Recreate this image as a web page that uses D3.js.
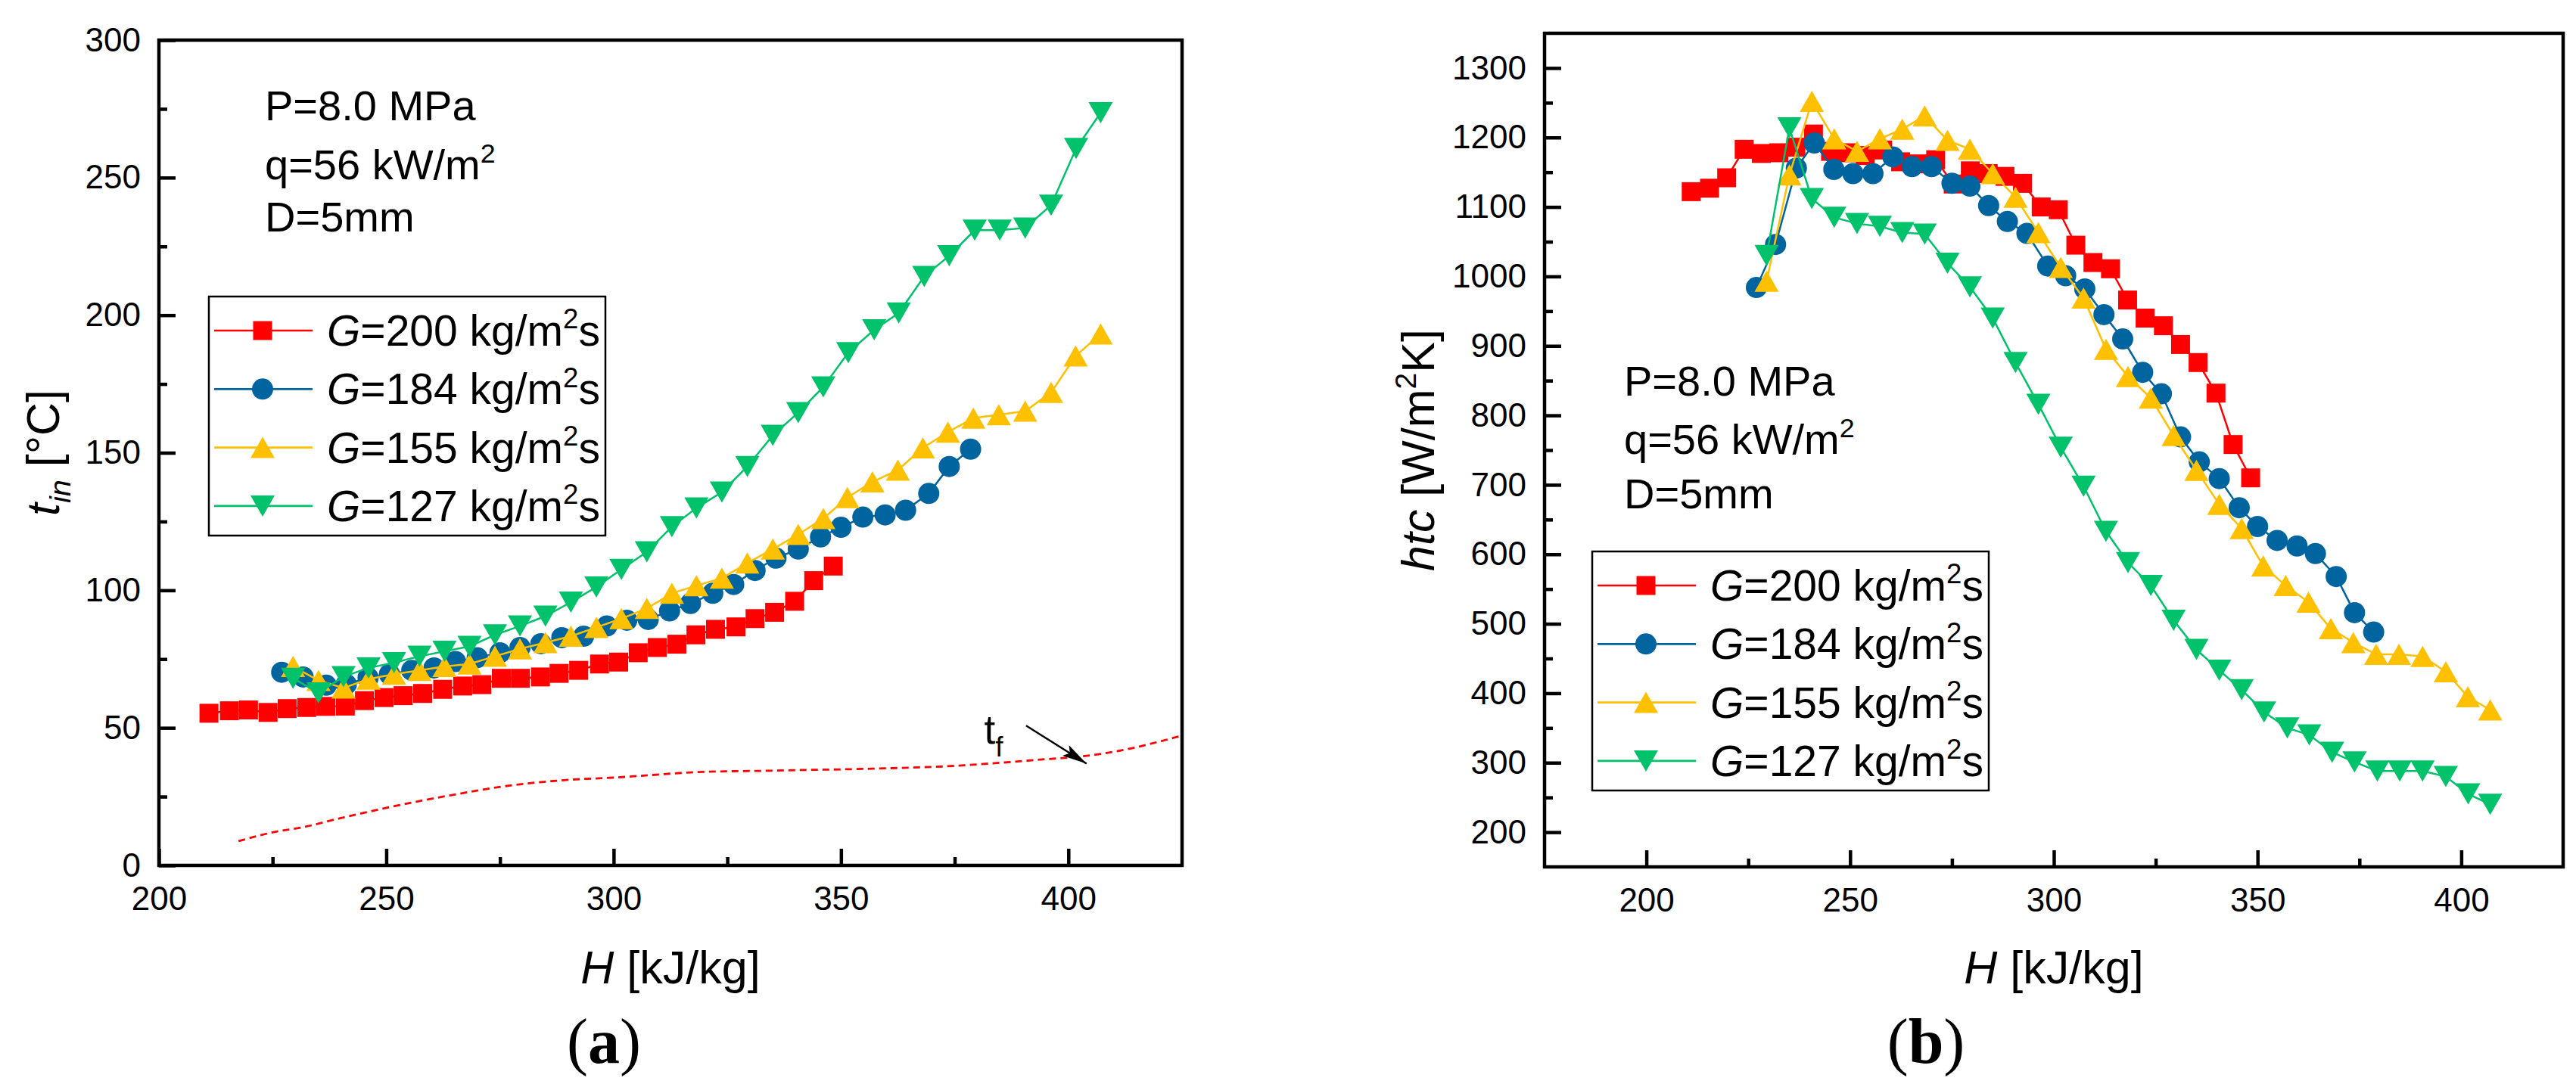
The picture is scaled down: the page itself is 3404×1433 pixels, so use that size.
<!DOCTYPE html>
<html>
<head>
<meta charset="utf-8">
<script src="https://cdn.jsdelivr.net/npm/d3@7"></script>
<style>
    body { margin: 0; background: #fff; }
    svg { display: block; font-family: "Liberation Sans", Arial, sans-serif; }
</style>
</head>
<body>
<svg id="chart" width="3404" height="1433"></svg>
<script>
// enthalpy H [kJ/kg] of each series
const hG200 = [211, 215.5, 219.7, 224, 228.2, 232.5, 236.7, 241, 245.2, 249.5, 253.7, 258, 262.4, 266.8, 271, 275.3,
    279.5, 283.9, 288, 292.3, 296.9, 301.1, 305.4, 309.6, 313.9, 318.1, 322.4, 326.9, 331.1, 335.4, 339.8, 344, 348.3];
const hG184 = [227, 231.7, 236.8, 241.2, 246, 250.7, 255.6, 260.5, 265.2, 270, 275, 279.4, 284, 288.6, 293.4, 298.5,
    302.9, 307.6, 312.3, 316.9, 321.8, 326.4, 331.1, 335.7, 340.6, 345.5, 350, 354.8, 359.7, 364.2, 369.3, 373.8, 378.5];
const hG155 = [229.5, 235.1, 240.6, 246.1, 251.7, 257.3, 262.8, 268.3, 273.9, 279.4, 285, 290.6, 296.2, 301.7, 307.3,
    312.8, 318.2, 323.8, 329.4, 335, 340.6, 346.1, 351.4, 356.9, 362.5, 368, 373.5, 379.1, 384.7, 390.5, 396.2, 401.6, 407.1];
const hG127 = [229.5, 235.1, 240.6, 246.1, 251.7, 257.3, 262.8, 268.3, 273.9, 279.4, 285, 290.6, 296.2, 301.7, 307.3,
    312.8, 318.2, 323.8, 329.4, 335, 340.6, 346.1, 351.6, 357.3, 362.7, 368.3, 373.8, 379.4, 384.9, 390.5, 396.2, 401.7, 407.1];

// (a) inner wall temperature t_in [°C]
const tG200 = [55.3, 56.2, 56.5, 55.6, 57.0, 57.4, 57.8, 57.9, 59.9, 61.0, 61.7, 62.5, 64.0, 65.2, 65.7, 68.0,
    68.0, 68.5, 69.8, 70.9, 73.2, 73.9, 77.3, 79.2, 80.4, 83.8, 85.8, 86.7, 89.7, 92.0, 96.0, 103.5, 108.8];
const tG184 = [70.2, 68.5, 65.5, 65.8, 68.2, 69.5, 70.9, 71.8, 74.1, 75.5, 77.3, 79.2, 80.6, 82.8, 83.3, 87.0,
    89.1, 89.4, 92.5, 95.2, 98.9, 102.1, 107.2, 111.7, 115.0, 119.4, 122.9, 126.6, 127.4, 129.1, 135.2, 145.0, 151.3];
const tG155 = [72.3, 67.2, 64.5, 67.7, 69.5, 70.9, 72.3, 73.2, 76.0, 78.7, 81.0, 83.3, 86.5, 89.7, 93.4, 98.9,
    101.7, 104.4, 109.9, 115.0, 120.3, 126.1, 133.7, 139.4, 143.7, 151.8, 157.5, 162.6, 163.8, 165.1, 171.9, 185.2, 193.2];
const tG127 = [68.0, 62.7, 68.6, 71.8, 73.7, 76.0, 77.8, 79.6, 83.8, 87.0, 90.6, 95.7, 101.2, 107.6, 114.0, 123.1,
    129.9, 135.7, 145.0, 156.3, 164.6, 173.9, 186.4, 194.7, 200.8, 214.1, 221.6, 230.9, 230.9, 231.7, 240.0, 260.6, 273.6];

// (a) fluid bulk temperature t_f (dashed curve)
const hFluid = [217.5, 225, 232, 240, 248.9, 257, 265.9, 274, 282.9, 291, 299.9, 308, 316.9, 325, 333.8, 342, 350,
    360, 373, 385, 395, 401, 410, 414, 420, 425];
const tFluid = [8.8, 12.0, 14.0, 17.2, 20.5, 23.3, 26.0, 28.3, 30.1, 31.2, 31.9, 32.8, 33.8, 34.2, 34.4, 34.7, 34.9,
    35.3, 36.0, 37.3, 38.6, 39.3, 41.3, 42.6, 45.0, 47.2];

// (b) heat transfer coefficient htc [W/m2K]
const htcG200 = [1122, 1127, 1142, 1183, 1177, 1178, 1186, 1205, 1180, 1178, 1174, 1182, 1165, 1162, 1168, 1133,
    1152, 1148, 1144, 1134, 1100, 1096, 1045, 1020, 1011, 966, 940, 929, 902, 876, 832, 758, 710];
const htcG184 = [984, 1046, 1156, 1192, 1154, 1148, 1148, 1172, 1158, 1158, 1134, 1130, 1102, 1079, 1062, 1015,
    1001, 982, 945, 910, 862, 831, 769, 733, 709, 667, 640, 620, 612, 601, 568, 516, 488];
const htcG155 = [993, 1146, 1252, 1198, 1180, 1198, 1212, 1231, 1196, 1183, 1148, 1114, 1063, 1013, 969, 895,
    856, 825, 771, 721, 672, 637, 583, 555, 531, 493, 473, 456, 456, 453, 431, 395, 376];
const htcG127 = [1030, 1214, 1112, 1085, 1076, 1072, 1063, 1061, 1019, 985, 940, 876, 816, 754, 698, 633,
    588, 555, 505, 463, 433, 405, 373, 350, 340, 315, 301, 288, 288, 288, 280, 255, 240];

const massFlux = ["200", "184", "155", "127"];
const seriesColors = ["#FF0000", "#00659E", "#FFC000", "#00C26B"];
const seriesShapes = ["square", "circle", "up", "down"];

// tick values
const ticksXa = [200, 250, 300, 350, 400];
const minorXa = [225, 275, 325, 375];
const ticksYa = [0, 50, 100, 150, 200, 250, 300];
const minorYa = [25, 75, 125, 175, 225, 275];
const ticksXb = [200, 250, 300, 350, 400];
const minorXb = [225, 275, 325, 375];
const ticksYb = [200, 300, 400, 500, 600, 700, 800, 900, 1000, 1100, 1200, 1300];
const minorYb = [250, 350, 450, 550, 650, 750, 850, 950, 1050, 1150, 1250];

const svg = d3.select("#chart");
svg.append("rect").attr("width", 3404).attr("height", 1433).attr("fill", "#fff");

svg.append("defs").append("marker")
    .attr("id", "arrowHead")
    .attr("viewBox", "0 0 10 10")
    .attr("refX", 10).attr("refY", 5)
    .attr("markerWidth", 13).attr("markerHeight", 6.5)
    .attr("markerUnits", "strokeWidth")
    .attr("orient", "auto")
    .attr("preserveAspectRatio", "none")
    .append("path")
    .attr("d", "M0,0L10,5L0,10L2,5Z")
    .attr("fill", "#000");

function markerPath(shape) {
    if (shape === "square") return "M-12.5,-12.5H12.5V12.5H-12.5Z";
    if (shape === "circle") return d3.symbol(d3.symbolCircle, Math.PI * 14 * 14)();
    if (shape === "up") return "M0,-14L16,14L-16,14Z";
    return "M0,14L16,-14L-16,-14Z";
}

function styleAxis(sel, fontSize) {
    sel.select(".domain").remove();
    sel.selectAll(".tick line").attr("stroke", "#000").attr("stroke-width", 4.5);
    sel.selectAll(".tick text").attr("fill", "#000").attr("font-size", fontSize)
        .attr("font-family", "'Liberation Sans', Arial, sans-serif");
}

// rich text: size relative to parent, shift in parent em (negative = up)
const textStyles = {
    "": { size: 1, shift: 0, italic: false },
    i: { size: 1, shift: 0, italic: true },
    sup: { size: 0.64, shift: -0.4, italic: false },
    isub: { size: 0.65, shift: 0.25, italic: true },
    rsub: { size: 0.7, shift: 0.32, italic: false },
};

function richText(sel, parts, baseSize) {
    let shift = 0;
    parts.forEach(([str, st]) => {
        const s = textStyles[st];
        const span = sel.append("tspan").text(str).attr("font-size", baseSize * s.size);
        if (s.italic) span.attr("font-style", "italic");
        if (s.shift !== shift) span.attr("dy", (s.shift - shift) * baseSize);
        shift = s.shift;
    });
}

function drawPanel(cfg) {
    const g = svg.append("g");
    const x = d3.scaleLinear().domain(cfg.xDomain).range([cfg.left, cfg.right]);
    const y = d3.scaleLinear().domain(cfg.yDomain).range([cfg.bottom, cfg.top]);

    // axes with inward ticks
    g.append("g").attr("transform", `translate(0,${cfg.bottom})`)
        .call(d3.axisBottom(x).tickValues(cfg.minorX).tickSizeInner(-11).tickSizeOuter(0).tickFormat(""))
        .call(styleAxis, 44);
    g.append("g").attr("transform", `translate(0,${cfg.bottom})`)
        .call(d3.axisBottom(x).tickValues(cfg.ticksX).tickSizeInner(-22).tickSizeOuter(0).tickPadding(28).tickFormat(d3.format("d")))
        .call(styleAxis, 44);
    g.append("g").attr("transform", `translate(${cfg.left},0)`)
        .call(d3.axisLeft(y).tickValues(cfg.minorY).tickSizeInner(-11).tickSizeOuter(0).tickFormat(""))
        .call(styleAxis, 44);
    g.append("g").attr("transform", `translate(${cfg.left},0)`)
        .call(d3.axisLeft(y).tickValues(cfg.ticksY).tickSizeInner(-22).tickSizeOuter(0).tickPadding(24).tickFormat(d3.format("d")))
        .call(styleAxis, 44);

    // clipped plotting area
    const clipId = `clip-${cfg.id}`;
    g.append("clipPath").attr("id", clipId).append("rect")
        .attr("x", cfg.left).attr("y", cfg.top)
        .attr("width", cfg.right - cfg.left).attr("height", cfg.bottom - cfg.top);
    const plot = g.append("g").attr("clip-path", `url(#${clipId})`);

    if (cfg.extra) cfg.extra(plot, x, y);

    const line = d3.line().x((d) => x(d[0])).y((d) => y(d[1]));
    cfg.series.forEach((s, i) => {
        const pts = d3.zip(s.h, s.v);
        plot.append("path")
            .datum(pts)
            .attr("fill", "none")
            .attr("stroke", seriesColors[i])
            .attr("stroke-width", 2.5)
            .attr("d", line);
        plot.append("g")
            .selectAll("path")
            .data(pts)
            .enter()
            .append("path")
            .attr("d", markerPath(seriesShapes[i]))
            .attr("transform", (d) => `translate(${x(d[0])},${y(d[1])})`)
            .attr("fill", seriesColors[i]);
    });

    // frame
    g.append("rect")
        .attr("x", cfg.left).attr("y", cfg.top)
        .attr("width", cfg.right - cfg.left).attr("height", cfg.bottom - cfg.top)
        .attr("fill", "none").attr("stroke", "#000").attr("stroke-width", 4.5);

    // condition text
    const notes = [
        [["P=8.0 MPa", ""]],
        [["q=56 kW/m", ""], ["2", "sup"]],
        [["D=5mm", ""]],
    ];
    notes.forEach((parts, k) => {
        const t = g.append("text")
            .attr("x", x(cfg.noteX))
            .attr("y", y(cfg.noteY[k]))
            .attr("fill", "#000");
        richText(t, parts, 56);
    });

    // legend
    const lg = g.append("g").attr("transform", `translate(${cfg.legend[0]},${cfg.legend[1]})`);
    lg.append("rect").attr("width", 524).attr("height", 316)
        .attr("fill", "#fff").attr("stroke", "#000").attr("stroke-width", 2.5);
    massFlux.forEach((m, i) => {
        const ry = 45 + i * 77.3;
        lg.append("line").attr("x1", 7).attr("x2", 137).attr("y1", ry).attr("y2", ry)
            .attr("stroke", seriesColors[i]).attr("stroke-width", 2.7);
        lg.append("path").attr("d", markerPath(seriesShapes[i]))
            .attr("transform", `translate(71,${ry})`).attr("fill", seriesColors[i]);
        const t = lg.append("text").attr("x", 156).attr("y", ry + 20)
            .attr("fill", "#000");
        richText(t, [["G", "i"], [`=${m} kg/m`, ""], ["2", "sup"], ["s", ""]], 57);
    });

    // axis titles
    const xt = g.append("text")
        .attr("x", (cfg.left + cfg.right) / 2).attr("y", 1300)
        .attr("text-anchor", "middle").attr("fill", "#000");
    richText(xt, [["H", "i"], [" [kJ/kg]", ""]], 61);

    const yt = g.append("text")
        .attr("transform", `translate(${cfg.yTitleX},${(cfg.top + cfg.bottom) / 2}) rotate(-90)`)
        .attr("text-anchor", "middle").attr("dy", 21).attr("fill", "#000");
    richText(yt, cfg.yTitle, 61);

    // panel letter
    const pl = g.append("text")
        .attr("x", cfg.letterX).attr("y", 1405)
        .attr("text-anchor", "middle")
        .attr("font-family", "'Liberation Serif', 'Times New Roman', serif")
        .attr("font-size", 84).attr("fill", "#000");
    pl.append("tspan").text("(");
    pl.append("tspan").attr("font-weight", "bold").text(cfg.letter);
    pl.append("tspan").text(")");

    return { x, y };
}

const panelA = drawPanel({
    id: "a",
    xDomain: [200, 425], yDomain: [0, 300],
    left: 210, right: 1562, top: 53, bottom: 1144,
    ticksX: ticksXa, minorX: minorXa, ticksY: ticksYa, minorY: minorYa,
    series: [
        { h: hG200, v: tG200 },
        { h: hG184, v: tG184 },
        { h: hG155, v: tG155 },
        { h: hG127, v: tG127 },
    ],
    noteX: 223.3, noteY: [270.8, 249.4, 230.4],
    legend: [276, 392],
    yTitleX: 57,
    yTitle: [["t", "i"], ["in", "isub"], [" [°C]", ""]],
    letterX: 798, letter: "a",
    extra: (plot, x, y) => {
        plot.append("path")
            .datum(d3.zip(hFluid, tFluid))
            .attr("fill", "none")
            .attr("stroke", "#FF0000")
            .attr("stroke-width", 2.8)
            .attr("stroke-dasharray", "9,6")
            .attr("d", d3.line().x((d) => x(d[0])).y((d) => y(d[1])).curve(d3.curveMonotoneX));
    },
});

// t_f label and arrow
{
    const { x, y } = panelA;
    const t = svg.append("text").attr("x", x(381.5)).attr("y", y(44.3))
        .attr("fill", "#000");
    richText(t, [["t", ""], ["f", "rsub"]], 53);
    svg.append("line")
        .attr("x1", x(390.7)).attr("y1", y(50.8))
        .attr("x2", x(404)).attr("y2", y(37))
        .attr("stroke", "#000").attr("stroke-width", 2.5)
        .attr("marker-end", "url(#arrowHead)");
}

drawPanel({
    id: "b",
    xDomain: [175, 425], yDomain: [150, 1350],
    left: 2041, right: 3387, top: 44, bottom: 1146,
    ticksX: ticksXb, minorX: minorXb, ticksY: ticksYb, minorY: minorYb,
    series: [
        { h: hG200, v: htcG200 },
        { h: hG184, v: htcG184 },
        { h: hG155, v: htcG155 },
        { h: hG127, v: htcG127 },
    ],
    noteX: 194.5, noteY: [828, 744.5, 666],
    legend: [2104, 729],
    yTitleX: 1874,
    yTitle: [["htc", "i"], [" [W/m", ""], ["2", "sup"], ["K]", ""]],
    letterX: 2545, letter: "b",
});
</script>
</body>
</html>
